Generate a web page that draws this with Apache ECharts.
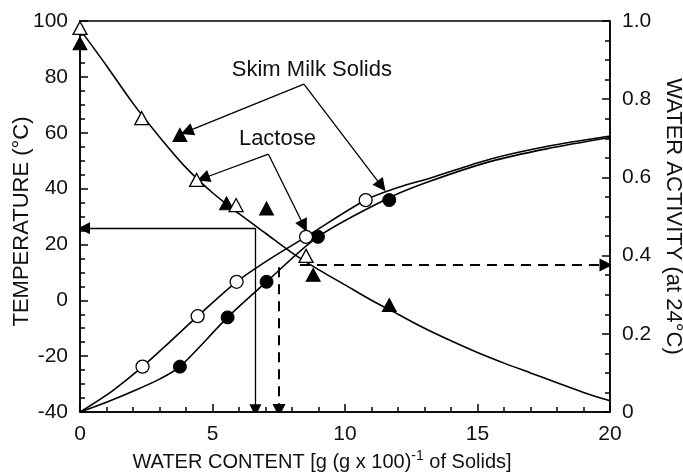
<!DOCTYPE html>
<html>
<head>
<meta charset="utf-8">
<script src="https://cdn.jsdelivr.net/npm/echarts@6/dist/echarts.min.js"></script>
<style>
html,body{margin:0;padding:0;background:#fff;}
#chart{width:683px;height:475px;}
</style>
</head>
<body>
<div id="chart"></div>
<script>
// ---- data ----
// Glass transition curve (temperature, left axis)
const tgCurve = [[0,97],[1,84],[2,70.5],[3,58.5],[4,47.5],[5,38.5],[6,31],[7,24],[8,17],[9,11],[10,5.5],[11,0],[12,-5],[13,-10],[14,-14.5],[15,-18.7],[16,-22.5],[17,-26],[18,-29.5],[19,-33],[20,-36]];
// Tg points: lactose (open triangles), skim milk solids (filled triangles)
const lactoseTg = [[0,97.5],[2.33,65.2],[4.4,43.1],[5.89,34.1],[8.53,15.9]];
const skimTg = [[0,92],[3.77,59.2],[5.53,34.7],[7.04,32.9],[8.8,9.1],[11.67,-1.7]];
// Sorption isotherms (water activity, right axis)
const lactoseAw = [[2.36,0.116],[4.44,0.245],[5.91,0.333],[8.53,0.448],[10.78,0.542]];
const skimAw = [[3.77,0.116],[5.57,0.242],[7.04,0.333],[8.98,0.448],[11.67,0.542]];
const lactoseCurve = [[0,0],[1.2,0.053],[2.36,0.116],[3.4,0.18],[4.44,0.245],[5.91,0.333],[7.2,0.393],[8.53,0.448],[10.78,0.542],[12,0.574],[13.2,0.598],[15.5,0.647],[17.6,0.679],[20,0.706]];
const skimCurve = [[0,0],[1.0,0.025],[2.0,0.053],[3.0,0.084],[3.77,0.116],[5.57,0.242],[7.04,0.333],[8.98,0.448],[11.67,0.548],[13.2,0.59],[15.5,0.641],[17.6,0.673],[20,0.702]];
// Guide arrows
const solidArrowsT = [[[6.62,25.8],[0.15,25.8]],[[6.62,25.8],[6.62,-39.4]]];
const dashedArrowsAw = [[[7.51,0.37],[7.51,0.004]],[[8.3,0.376],[19.85,0.376]]];
// Annotation arrows (temperature coordinates)
const skimPointers = [[[8.45,77.4],[4.03,60.4]],[[8.45,77.4],[11.38,40.9]]];
const lactosePointers = [[[7.11,52.3],[4.65,43.7]],[[7.11,52.3],[8.45,26.6]]];
const annotations = [{name:'Skim Milk Solids', value:[8.75,82.4]},{name:'Lactose', value:[7.45,57.6]}];
// Axes
const xTicks = {min:0, max:20, interval:5};
const tTicks = {min:-40, max:100, interval:20};
const awTicks = {min:0, max:1, interval:0.2};

const FONT = '"Liberation Sans", Arial, Helvetica, sans-serif';
const BLACK = '#000';
const TEXT = '#111';

const chart = echarts.init(document.getElementById('chart'), null, {renderer:'canvas'});

function axisCommon(){
  return {
    nameMoveOverlap:false,
    axisLine:{show:true, onZero:false, lineStyle:{color:BLACK, width:1.5}},
    axisTick:{show:true, inside:true, length:8, lineStyle:{color:BLACK, width:1.5}},
    minorTick:{show:true, length:5, lineStyle:{color:BLACK, width:1.5}},
    splitLine:{show:false},
    axisLabel:{color:TEXT, fontSize:21, fontFamily:FONT, margin:12},
    nameTextStyle:{color:TEXT, fontSize:20, fontFamily:FONT}
  };
}

const arrowLine = (coordsList, yIdx, dashed, size) => ({
  type:'lines', coordinateSystem:'cartesian2d', xAxisIndex:0, yAxisIndex:yIdx,
  polyline:false, silent:true, z:4,
  symbol:['none','triangle'], symbolSize:size || [7,12],
  itemStyle:{color:BLACK},
  lineStyle:{color:BLACK, width: dashed ? 2 : 1.3, type: dashed ? [10,7] : 'solid', opacity:1, curveness:0},
  data: coordsList.map(c => ({coords:c}))
});

const option = {
  animation:false,
  backgroundColor:'#fff',
  grid:{left:80, right:73, top:21, bottom:63, show:true, borderColor:BLACK, borderWidth:1.5,
        containLabel:false, outerBoundsMode:'none'},
  xAxis:[Object.assign(axisCommon(), {
    type:'value', min:xTicks.min, max:xTicks.max, interval:xTicks.interval,
    minorTick:{show:true, splitNumber:5, length:5, lineStyle:{color:BLACK, width:1.5}},
    name:'WATER CONTENT [g (g x 100){sup|-1} of Solids]',
    nameLocation:'middle', nameGap:37,
    nameTextStyle:{color:TEXT, fontSize:20, fontFamily:FONT, padding:[0,46,0,0],
      rich:{sup:{fontSize:14, fontFamily:FONT, color:TEXT, verticalAlign:'top', padding:[0,0,12,0]}}}
  })],
  yAxis:[Object.assign(axisCommon(), {
    type:'value', min:tTicks.min, max:tTicks.max, interval:tTicks.interval, position:'left',
    minorTick:{show:true, splitNumber:4, length:5, lineStyle:{color:BLACK, width:1.5}},
    name:'TEMPERATURE (°C)', nameLocation:'middle', nameGap:47, nameRotate:90,
    nameTextStyle:{color:TEXT, fontSize:22, fontFamily:FONT, padding:[0,10,0,0]}
  }), Object.assign(axisCommon(), {
    type:'value', min:awTicks.min, max:awTicks.max, interval:awTicks.interval, position:'right',
    minorTick:{show:true, splitNumber:4, length:5, lineStyle:{color:BLACK, width:1.5}},
    axisLabel:{color:TEXT, fontSize:21, fontFamily:FONT, margin:12,
      formatter: v => v === 0 ? '0' : v.toFixed(1)},
    name:'WATER ACTIVITY (at 24°C)', nameLocation:'middle', nameGap:52, nameRotate:-90,
    nameTextStyle:{color:TEXT, fontSize:22, fontFamily:FONT}
  })],
  series:[
    {type:'line', xAxisIndex:0, yAxisIndex:0, data:tgCurve, smooth:0.3, showSymbol:false,
     lineStyle:{color:BLACK, width:1.6}, z:2},
    {type:'line', xAxisIndex:0, yAxisIndex:1, data:lactoseCurve, smooth:0.3, showSymbol:false,
     lineStyle:{color:BLACK, width:1.6}, z:2},
    {type:'line', xAxisIndex:0, yAxisIndex:1, data:skimCurve, smooth:0.3, showSymbol:false,
     lineStyle:{color:BLACK, width:1.6}, z:2},
    arrowLine(solidArrowsT, 0, false),
    arrowLine(dashedArrowsAw, 1, true, [8,13]),
    arrowLine(skimPointers, 0, false, [8,13]),
    arrowLine(lactosePointers, 0, false, [8,13]),
    {type:'scatter', xAxisIndex:0, yAxisIndex:0, data:skimTg, symbol:'triangle', symbolSize:[14,13],
     itemStyle:{color:BLACK, borderColor:BLACK, borderWidth:1, opacity:1}, z:6},
    {type:'scatter', xAxisIndex:0, yAxisIndex:0, data:lactoseTg, symbol:'triangle', symbolSize:[14,13],
     itemStyle:{color:'#fff', borderColor:BLACK, borderWidth:1.3, opacity:1}, z:6},
    {type:'scatter', xAxisIndex:0, yAxisIndex:1, data:skimAw, symbol:'circle', symbolSize:13,
     itemStyle:{color:BLACK, borderColor:BLACK, borderWidth:1, opacity:1}, z:6},
    {type:'scatter', xAxisIndex:0, yAxisIndex:1, data:lactoseAw, symbol:'circle', symbolSize:13,
     itemStyle:{color:'#fff', borderColor:BLACK, borderWidth:1.3, opacity:1}, z:7},
    {type:'scatter', xAxisIndex:0, yAxisIndex:0, data:annotations, symbolSize:1, silent:true, z:8,
     itemStyle:{opacity:0},
     label:{show:true, position:'inside', formatter: p => p.name, color:TEXT, opacity:1, fontSize:22, fontFamily:FONT}}
  ]
};
chart.setOption(option);
</script>
</body>
</html>
